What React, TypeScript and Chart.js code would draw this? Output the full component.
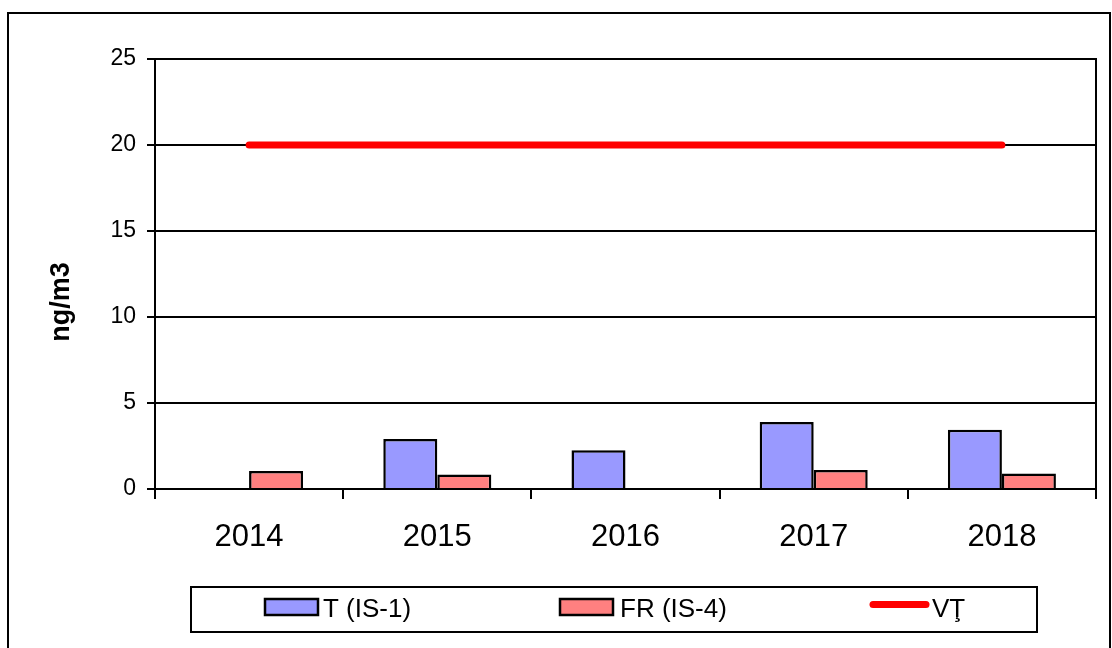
import React, { useEffect, useRef } from "react";
import { Chart, registerables } from "chart.js";

Chart.register(...registerables);

const categories = ["2014", "2015", "2016", "2017", "2018"];
const seriesT = [null, 2.9, 2.25, 3.9, 3.45];
const seriesFR = [1.05, 0.85, null, 1.1, 0.9];
const seriesVT = [20, 20, 20, 20, 20];
const seriesLabels = ["T (IS-1)", "FR (IS-4)", "VŢ"];
const seriesColors = ["#9999FF", "#FF8080", "#FF0000"];
const yTitle = "ng/m3";
const yMin = 0;
const yMax = 25;
const yStep = 5;

const FONT = "'Liberation Sans', Arial, sans-serif";

const extrasPlugin = {
  id: "extras",
  afterDraw(chart: any) {
    const ctx = chart.ctx;
    const a = chart.chartArea;
    ctx.save();
    // plot area border (top + right)
    ctx.strokeStyle = "#000";
    ctx.lineWidth = 2;
    ctx.beginPath();
    ctx.moveTo(a.left, a.top);
    ctx.lineTo(a.right, a.top);
    ctx.lineTo(a.right, a.bottom);
    ctx.stroke();

    // y axis title
    ctx.fillStyle = "#000";
    ctx.font = `bold 27px ${FONT}`;
    ctx.textAlign = "center";
    ctx.textBaseline = "middle";
    ctx.translate(62, 302);
    ctx.rotate(-Math.PI / 2);
    ctx.fillText(yTitle, 0, 0);
    ctx.restore();

    // legend
    ctx.save();
    ctx.strokeStyle = "#000";
    ctx.lineWidth = 2;
    ctx.strokeRect(191, 587, 846, 45);
    const swatchX = [265, 560, 870];
    const textX = [323, 620, 932];
    ctx.font = `26px ${FONT}`;
    ctx.textBaseline = "alphabetic";
    ctx.textAlign = "left";
    for (let i = 0; i < seriesLabels.length; i++) {
      if (i < 2) {
        ctx.fillStyle = seriesColors[i];
        ctx.fillRect(swatchX[i], 599, 53, 16);
        ctx.strokeStyle = "#000";
        ctx.lineWidth = 2.5;
        ctx.strokeRect(swatchX[i], 599, 53, 16);
      } else {
        ctx.strokeStyle = seriesColors[i];
        ctx.lineWidth = 7;
        ctx.lineCap = "round";
        ctx.beginPath();
        ctx.moveTo(swatchX[i] + 3, 604.5);
        ctx.lineTo(swatchX[i] + 56, 604.5);
        ctx.stroke();
      }
      ctx.fillStyle = "#000";
      ctx.fillText(seriesLabels[i], textX[i], 617);
    }
    ctx.restore();
  },
};

export default function App() {
  const ref = useRef<HTMLCanvasElement | null>(null);
  useEffect(() => {
    if (!ref.current) return;
    const chart = new Chart(ref.current, {
      type: "bar",
      data: {
        labels: categories,
        datasets: [
          {
            type: "line",
            label: seriesLabels[2],
            data: seriesVT,
            borderColor: seriesColors[2],
            backgroundColor: seriesColors[2],
            borderWidth: 7,
            borderCapStyle: "round",
            pointRadius: 0,
            fill: false,
            order: 0,
          } as any,
          {
            label: seriesLabels[0],
            data: seriesT,
            backgroundColor: seriesColors[0],
            borderColor: "#000",
            borderWidth: 2.5,
            categoryPercentage: 0.574,
            barPercentage: 1,
            order: 1,
          },
          {
            label: seriesLabels[1],
            data: seriesFR,
            backgroundColor: seriesColors[1],
            borderColor: "#000",
            borderWidth: 2.5,
            categoryPercentage: 0.574,
            barPercentage: 1,
            order: 1,
          },
        ],
      },
      options: {
        responsive: false,
        animation: false,
        layout: { padding: { left: 0, top: 59, right: 16, bottom: 0 } },
        plugins: { legend: { display: false }, tooltip: { enabled: false } },
        scales: {
          x: {
            offset: true,
            grid: {
              offset: true,
              drawOnChartArea: false,
              color: "#000",
              lineWidth: 2,
              tickLength: 10,
              tickWidth: 2,
            },
            border: { display: true, color: "#000", width: 2 },
            ticks: {
              color: "#000",
              font: { family: FONT, size: 31 },
              padding: 20,
            },
            afterFit(scale: any) {
              scale.height = 159;
            },
          },
          y: {
            min: yMin,
            max: yMax,
            grid: {
              color: "#000",
              lineWidth: 2,
              tickLength: 8,
            },
            border: { display: true, color: "#000", width: 2 },
            ticks: {
              stepSize: yStep,
              color: "#000",
              font: { family: FONT, size: 23 },
              padding: 11,
            },
            afterFit(scale: any) {
              scale.width = 155;
            },
          },
        },
      },
      plugins: [extrasPlugin],
    });
    return () => chart.destroy();
  }, []);
  return (
    <div style={{ position: "fixed", left: 0, top: 0, width: 1112, height: 648, background: "#fff", overflow: "hidden" }}>
      <div
        style={{
          position: "absolute",
          left: 7,
          top: 12,
          width: 1104,
          height: 700,
          border: "2px solid #000",
          boxSizing: "border-box",
        }}
      />
      <canvas ref={ref} width={1112} height={648} style={{ position: "absolute", left: 0, top: 0, width: 1112, height: 648 }} />
    </div>
  );
}
